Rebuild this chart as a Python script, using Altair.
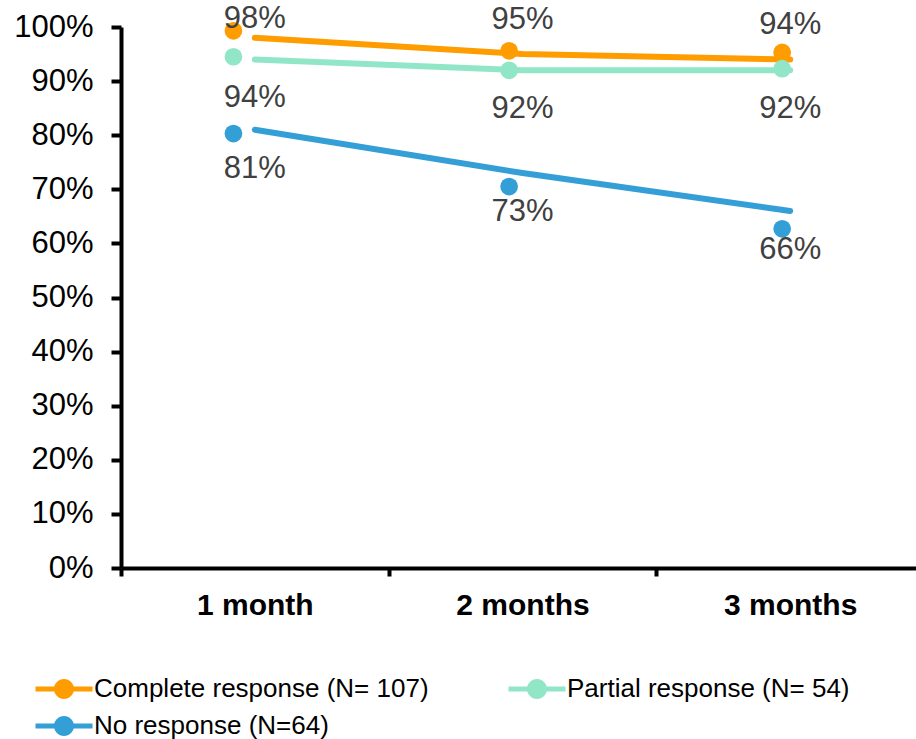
import altair as alt
import pandas as pd

# Follow-up months and their axis positions
months = ["1 month", "2 months", "3 months"]
month_pos = [1, 2, 3]
# Time (in months) at which each marker was recorded
marker_pos = [0.92, 1.95, 2.97]

series = ["Complete response (N= 107)", "Partial response (N= 54)", "No response (N=64)"]
series_key = ["complete", "partial", "none"]

# Reported percentages (line + labels)
complete_pct = [0.98, 0.95, 0.94]
partial_pct = [0.94, 0.92, 0.92]
none_pct = [0.81, 0.73, 0.66]

# Observed marker values
complete_marker = [0.993, 0.956, 0.953]
partial_marker = [0.945, 0.920, 0.923]
none_marker = [0.803, 0.705, 0.627]

colors = ["#FF9C00", "#92E6C8", "#349ED6"]
FONT = "Liberation Sans"

rows = []
for name, key, pct, mk in zip(series, series_key, [complete_pct, partial_pct, none_pct],
                              [complete_marker, partial_marker, none_marker]):
    for i in range(len(months)):
        rows.append(dict(series=name, key=key, month=months[i], pos=month_pos[i], pct=pct[i],
                         marker_pos=marker_pos[i], marker_pct=mk[i]))
df = pd.DataFrame(rows)

x_scale = alt.Scale(domain=[0.5, 3.47], nice=False, zero=False)
y_scale = alt.Scale(domain=[0, 1], nice=False)

label_expr = " : ".join(
    f"datum.value == {p} ? '{m}'" for p, m in zip(month_pos, months)
) + " : ''"

x_axis = alt.Axis(
    values=[0.5, 1, 1.5, 2, 2.5, 3],
    labelExpr=label_expr,
    tickOpacity={"condition": {"test": "datum.value % 1 != 0", "value": 1}, "value": 0},
    tickSize=8, tickWidth=4, tickColor="black",
    domainColor="black", domainWidth=4,
    labelFont=FONT, labelFontSize=30, labelFontWeight="bold", labelColor="black",
    labelPadding=14, labelOverlap=False, labelFlush=False, grid=False, title=None,
)
y_axis = alt.Axis(
    values=[i / 10 for i in range(11)], format=".0%",
    tickSize=10, tickWidth=4, tickColor="black",
    domainColor="black", domainWidth=4,
    labelFont=FONT, labelFontSize=31, labelColor="black",
    labelPadding=18, grid=False, title=None,
)

# Legend glyph: a short line with a dot in the middle
legend_path = "M-2.85,-0.25H2.85V0.25H-2.85Z M1,0A1,1,0,1,1,-1,0A1,1,0,1,1,1,0Z"

base = alt.Chart(df)

lines = base.mark_line(strokeWidth=6, strokeCap="round").encode(
    x=alt.X("pos:Q", scale=x_scale, axis=x_axis, title=None),
    y=alt.Y("pct:Q", scale=y_scale, axis=y_axis, title=None),
    stroke=alt.Stroke("key:N", scale=alt.Scale(domain=series_key, range=colors), legend=None),
)

points = base.mark_point(filled=True, size=314, opacity=1).encode(
    x=alt.X("marker_pos:Q", scale=x_scale, axis=x_axis, title=None),
    y=alt.Y("marker_pct:Q", scale=y_scale, axis=y_axis, title=None),
    color=alt.Color(
        "series:N", scale=alt.Scale(domain=series, range=colors),
        legend=alt.Legend(
            title=None, orient="none", legendX=-70, legendY=649,
            direction="horizontal", columns=2,
            symbolType=legend_path, symbolSize=400, symbolStrokeWidth=0, symbolOpacity=1,
            labelFont=FONT, labelFontSize=26, labelColor="black", labelLimit=600,
            labelOffset=17, columnPadding=79, rowPadding=11,
        ),
    ),
)

labels = base.transform_calculate(
    label_y=f"datum.key == '{series_key[0]}' ? min(datum.pct + 0.063, 1.015) : datum.pct - 0.072"
).mark_text(font=FONT, fontSize=31, color="#404040", baseline="middle", align="center").encode(
    x=alt.X("pos:Q", scale=x_scale, axis=x_axis, title=None),
    y=alt.Y("label_y:Q", scale=y_scale, axis=y_axis, title=None),
    text=alt.Text("pct:Q", format=".0%"),
)

chart = alt.layer(lines, points, labels).properties(
    width=795,
    height=541,
    padding={"left": 121, "top": 27, "right": 0, "bottom": 171},
    autosize=alt.AutoSizeParams(type="none"),
).configure(font=FONT).configure_view(stroke=None)

chart.save("out.html", embed_options={"renderer": "svg", "actions": False})
